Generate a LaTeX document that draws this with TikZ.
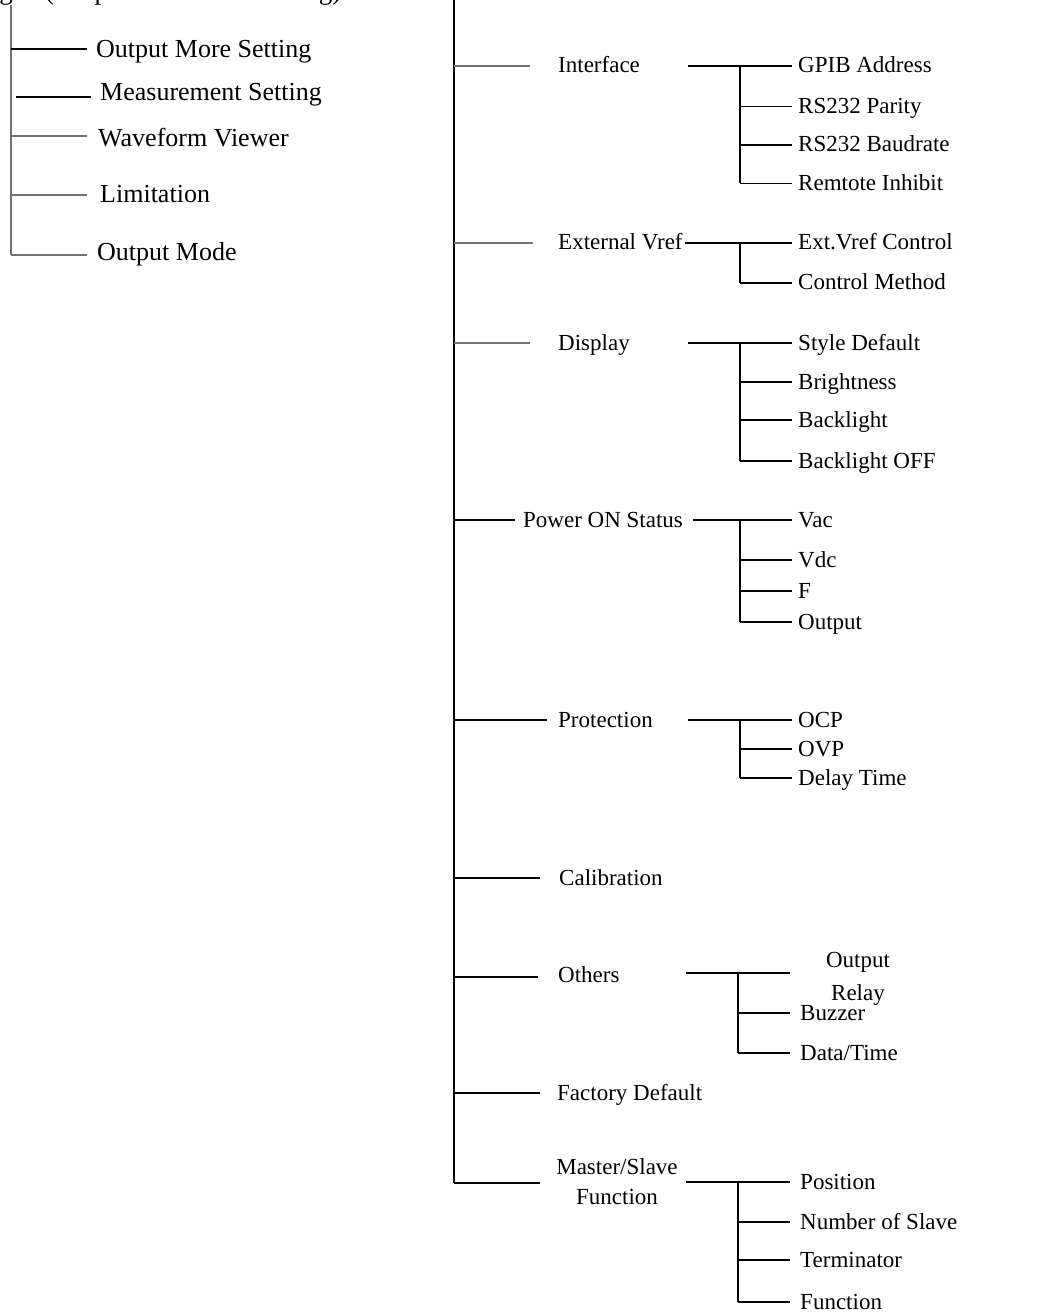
\documentclass[tikz,border=0pt]{standalone}
\usepackage{fontspec}
\setmainfont{Liberation Serif}
\begin{document}
\begin{tikzpicture}[x=1pt,y=-1pt,
  lblL/.style={font=\fontsize{26}{30}\selectfont, anchor=base west, inner sep=0pt},
  lblR/.style={font=\fontsize{23}{28}\selectfont, anchor=base west, inner sep=0pt},
  lblT/.style={font=\fontsize{27}{31}\selectfont, inner sep=0pt},
  ln/.style={line width=1.5pt, black},
  gln/.style={line width=1.3pt, color=black!55},
  trunk/.style={line width=2.2pt, black}]
\useasboundingbox (0,0) rectangle (1043,1313);

% ---------- title cut off by the top edge (only descenders visible) ----------
\node[lblT, anchor=base east] (titA) at (13,-0.5) {Setting};
\node[lblT, anchor=base west] (titB) at (45,-0.5) {(Output Waveform Setting)};

% ---------- left tree ----------
\coordinate (L0) at (11,5);
\coordinate (L5) at (11,255);
\draw[gln] (L0) -- (L5);

\coordinate (a1) at (11,49);  \coordinate (a1e) at (87,49);
\coordinate (a2) at (16,97);  \coordinate (a2e) at (91,97);
\coordinate (a3) at (11,136); \coordinate (a3e) at (87,136);
\coordinate (a4) at (11,195); \coordinate (a4e) at (87,195);
\coordinate (a5) at (11,255); \coordinate (a5e) at (87,255);
\draw[ln]  (a1) -- (a1e);
\draw[ln]  (a2) -- (a2e);
\draw[gln] (a3) -- (a3e);
\draw[gln] (a4) -- (a4e);
\draw[gln] (a5) -- (a5e);
\node[lblL] (A1) at (96,57.5)  {Output More Setting};
\node[lblL] (A2) at (100,100.5) {Measurement Setting};
\node[lblL] (A3) at (98,147)   {Waveform Viewer};
\node[lblL] (A4) at (100,203)  {Limitation};
\node[lblL] (A5) at (97,261)   {Output Mode};

% ---------- right main trunk ----------
\coordinate (T0) at (454,0);
\coordinate (T9) at (454,1183);
\draw[trunk] (T0) -- (T9);

% level-1 branches
\coordinate (b1) at (454,66);   \coordinate (b1e) at (530,66);
\coordinate (b2) at (454,243);  \coordinate (b2e) at (533,243);
\coordinate (b3) at (454,343);  \coordinate (b3e) at (530,343);
\coordinate (b4) at (454,520);  \coordinate (b4e) at (515,520);
\coordinate (b5) at (454,720);  \coordinate (b5e) at (547,720);
\coordinate (b6) at (454,878);  \coordinate (b6e) at (540,878);
\coordinate (b7) at (454,977);  \coordinate (b7e) at (538,977);
\coordinate (b8) at (454,1093); \coordinate (b8e) at (540,1093);
\coordinate (b9) at (454,1183); \coordinate (b9e) at (540,1183);
\draw[gln] (b1) -- (b1e);
\draw[gln] (b2) -- (b2e);
\draw[gln] (b3) -- (b3e);
\draw[ln]  (b4) -- (b4e);
\draw[ln]  (b5) -- (b5e);
\draw[ln]  (b6) -- (b6e);
\draw[ln]  (b7) -- (b7e);
\draw[ln]  (b8) -- (b8e);
\draw[ln]  (b9) -- (b9e);

\node[lblR] (B1) at (558,73)   {Interface};
\node[lblR] (B2) at (558,250)  {External Vref};
\node[lblR] (B3) at (558,350)  {Display};
\node[lblR] (B4) at (523,527)  {Power ON Status};
\node[lblR] (B5) at (558,727)  {Protection};
\node[lblR] (B6) at (559,885)  {Calibration};
\node[lblR] (B7) at (558,982)  {Others};
\node[lblR] (B8) at (557,1100) {Factory Default};
\node[font=\fontsize{23}{28}\selectfont, align=center, inner sep=0pt] (B9) at (617,1182) {Master/Slave\\[2pt]Function};

% ---------- level-2 groups ----------
% Interface
\coordinate (c1) at (688,66); \coordinate (c1e) at (792,66);
\coordinate (v1a) at (740,66); \coordinate (v1b) at (740,183.3);
\draw[ln] (c1) -- (c1e);
\draw[ln] (v1a) -- (v1b);
\foreach \yy/\tt [count=\i] in {66/GPIB Address,106.7/RS232 Parity,145/RS232 Baudrate,183.3/Remtote Inhibit}{
  \coordinate (i\i) at (740,\yy); \coordinate (i\i e) at (792,\yy);
  \draw[ln] (i\i) -- (i\i e);
  \node[lblR] (I\i) at (798,\yy+7) {\tt};
}
% External Vref
\coordinate (c2) at (685,243); \coordinate (c2e) at (792,243);
\coordinate (v2a) at (740,243); \coordinate (v2b) at (740,283);
\draw[ln] (c2) -- (c2e);
\draw[ln] (v2a) -- (v2b);
\foreach \yy/\tt [count=\i] in {243/Ext.Vref Control,283/Control Method}{
  \coordinate (e\i) at (740,\yy); \coordinate (e\i e) at (792,\yy);
  \draw[ln] (e\i) -- (e\i e);
  \node[lblR] (E\i) at (798,\yy+7) {\tt};
}
% Display
\coordinate (c3) at (688,343); \coordinate (c3e) at (792,343);
\coordinate (v3a) at (740,343); \coordinate (v3b) at (740,461);
\draw[ln] (c3) -- (c3e);
\draw[ln] (v3a) -- (v3b);
\foreach \yy/\tt [count=\i] in {343/Style Default,382/Brightness,420/Backlight,461/Backlight OFF}{
  \coordinate (d\i) at (740,\yy); \coordinate (d\i e) at (792,\yy);
  \draw[ln] (d\i) -- (d\i e);
  \node[lblR] (D\i) at (798,\yy+7) {\tt};
}
% Power ON Status
\coordinate (c4) at (693,520); \coordinate (c4e) at (792,520);
\coordinate (v4a) at (740,520); \coordinate (v4b) at (740,622);
\draw[ln] (c4) -- (c4e);
\draw[ln] (v4a) -- (v4b);
\foreach \yy/\tt [count=\i] in {520/Vac,560/Vdc,591/F,622/Output}{
  \coordinate (p\i) at (740,\yy); \coordinate (p\i e) at (792,\yy);
  \draw[ln] (p\i) -- (p\i e);
  \node[lblR] (P\i) at (798,\yy+7) {\tt};
}
% Protection
\coordinate (c5) at (688,720); \coordinate (c5e) at (792,720);
\coordinate (v5a) at (740,720); \coordinate (v5b) at (740,778);
\draw[ln] (c5) -- (c5e);
\draw[ln] (v5a) -- (v5b);
\foreach \yy/\tt [count=\i] in {720/OCP,749/OVP,778/Delay Time}{
  \coordinate (r\i) at (740,\yy); \coordinate (r\i e) at (792,\yy);
  \draw[ln] (r\i) -- (r\i e);
  \node[lblR] (R\i) at (798,\yy+7) {\tt};
}
% Others
\coordinate (c7) at (686,973); \coordinate (c7e) at (790,973);
\coordinate (v7a) at (738,973); \coordinate (v7b) at (738,1053);
\draw[ln] (c7) -- (c7e);
\draw[ln] (v7a) -- (v7b);
\node[font=\fontsize{23}{28}\selectfont, align=center, inner sep=0pt] (O1) at (858,978.5) {Output\\[5pt]Relay};
\foreach \yy/\tt [count=\i from 2] in {1013/{Buzzer},1053/{Data/Time}}{
  \coordinate (o\i) at (738,\yy); \coordinate (o\i e) at (790,\yy);
  \draw[ln] (o\i) -- (o\i e);
  \node[lblR] (O\i) at (800,\yy+7) {\tt};
}
% Master/Slave Function
\coordinate (c9) at (686,1182); \coordinate (c9e) at (790,1182);
\coordinate (v9a) at (738,1182); \coordinate (v9b) at (738,1302);
\draw[ln] (c9) -- (c9e);
\draw[ln] (v9a) -- (v9b);
\foreach \yy/\tt [count=\i] in {1182/Position,1222/Number of Slave,1260/Terminator,1302/Function}{
  \coordinate (m\i) at (738,\yy); \coordinate (m\i e) at (790,\yy);
  \draw[ln] (m\i) -- (m\i e);
  \node[lblR] (M\i) at (800,\yy+7) {\tt};
}
\end{tikzpicture}
\end{document}
